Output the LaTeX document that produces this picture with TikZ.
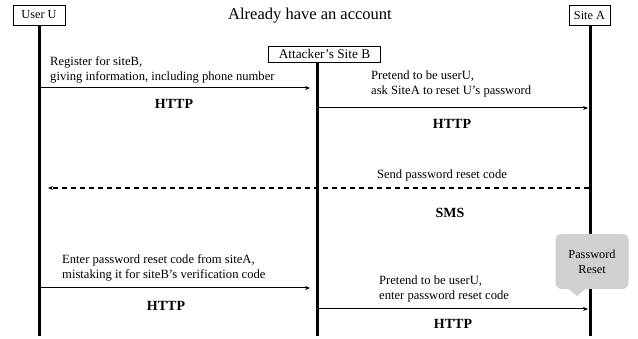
\documentclass[tikz,border=0pt]{standalone}
\usepackage{fontspec}
\setmainfont{Liberation Serif}
\usetikzlibrary{arrows.meta}
\definecolor{calloutgray}{HTML}{D0D0D0}
\begin{document}
\begin{tikzpicture}[x=1pt,y=-1pt,
  actor/.style={draw,line width=0.8pt,fill=white,inner sep=0pt,minimum height=20pt,font=\fontsize{12.3}{14}\selectfont},
  life/.style={line width=3pt},
  msg/.style={line width=1pt,-{Stealth[length=5pt,width=4pt]}},
  dmsg/.style={line width=1.5pt,dash pattern=on 5pt off 4pt,-{Stealth[length=5pt,width=4pt]}},
  lbl/.style={font=\fontsize{12.6}{15}\selectfont,align=left,anchor=west,inner sep=0pt},
  clbl/.style={font=\fontsize{12.6}{15}\selectfont,inner sep=0pt},
  proto/.style={font=\fontsize{14}{16}\selectfont\bfseries,inner sep=0pt}]
\useasboundingbox (0,0) rectangle (638,339);
\fill[white] (0,0) rectangle (638,339);
% title
\node[font=\fontsize{16.5}{18}\selectfont,inner sep=0pt] (title) at (310,16) {Already have an account};
% actors
\node[actor,minimum width=52pt] (u) at (39,15) {User U};
\node[actor,minimum width=41pt] (a) at (589.5,15) {Site A};
\node[actor,minimum width=112pt,minimum height=16pt,font=\fontsize{13.3}{15}\selectfont] (b) at (324.5,54) {Attacker’s Site B};
% lifeline ends
\coordinate (ue) at (39,336);
\coordinate (be) at (317,336);
\coordinate (ae) at (590,336);
\draw[life] (u.south) -- (ue);
\draw[life] (317,62) coordinate (bs) -- (be);
\draw[life] (590,25) coordinate (as) -- (ae);
% message endpoints
\coordinate (m1s) at (40,88);   \coordinate (m1e) at (310,88);
\coordinate (m2s) at (318,108); \coordinate (m2e) at (588,108);
\coordinate (m3s) at (589,188); \coordinate (m3e) at (48,188);
\coordinate (m4s) at (40,288);  \coordinate (m4e) at (310,288);
\coordinate (m5s) at (318,309); \coordinate (m5e) at (588,309);
% messages
\draw[msg] (m1s) -- (m1e);
\node[lbl] (t1) at (50,69.5) {Register for siteB,\\giving information, including phone number};
\node[proto] (p1) at (174,104) {HTTP};
\draw[msg] (m2s) -- (m2e);
\node[lbl] (t2) at (371,84) {Pretend to be userU,\\ask SiteA to reset U’s password};
\node[proto] (p2) at (452,124) {HTTP};
\draw[dmsg] (m3s) -- (m3e);
\node[clbl] (t3) at (442,175) {Send password reset code};
\node[proto] (p3) at (450,213) {SMS};
\draw[msg] (m4s) -- (m4e);
\node[lbl] (t4) at (62,267.5) {Enter password reset code from siteA,\\mistaking it for siteB’s verification code};
\node[proto] (p4) at (166,306) {HTTP};
\draw[msg] (m5s) -- (m5e);
\node[lbl] (t5) at (379,288.5) {Pretend to be userU,\\enter password reset code};
\node[proto] (p5) at (453,324) {HTTP};
% callout
\node[fill=calloutgray,rounded corners=6pt,minimum width=73pt,minimum height=55pt,inner sep=0pt,align=center,font=\fontsize{12.3}{15}\selectfont] (pr) at (592,261.5) {Password\\Reset};
\fill[calloutgray] (568,288.5) -- (577,296) -- (586,288.5) -- cycle;
\end{tikzpicture}
\end{document}
